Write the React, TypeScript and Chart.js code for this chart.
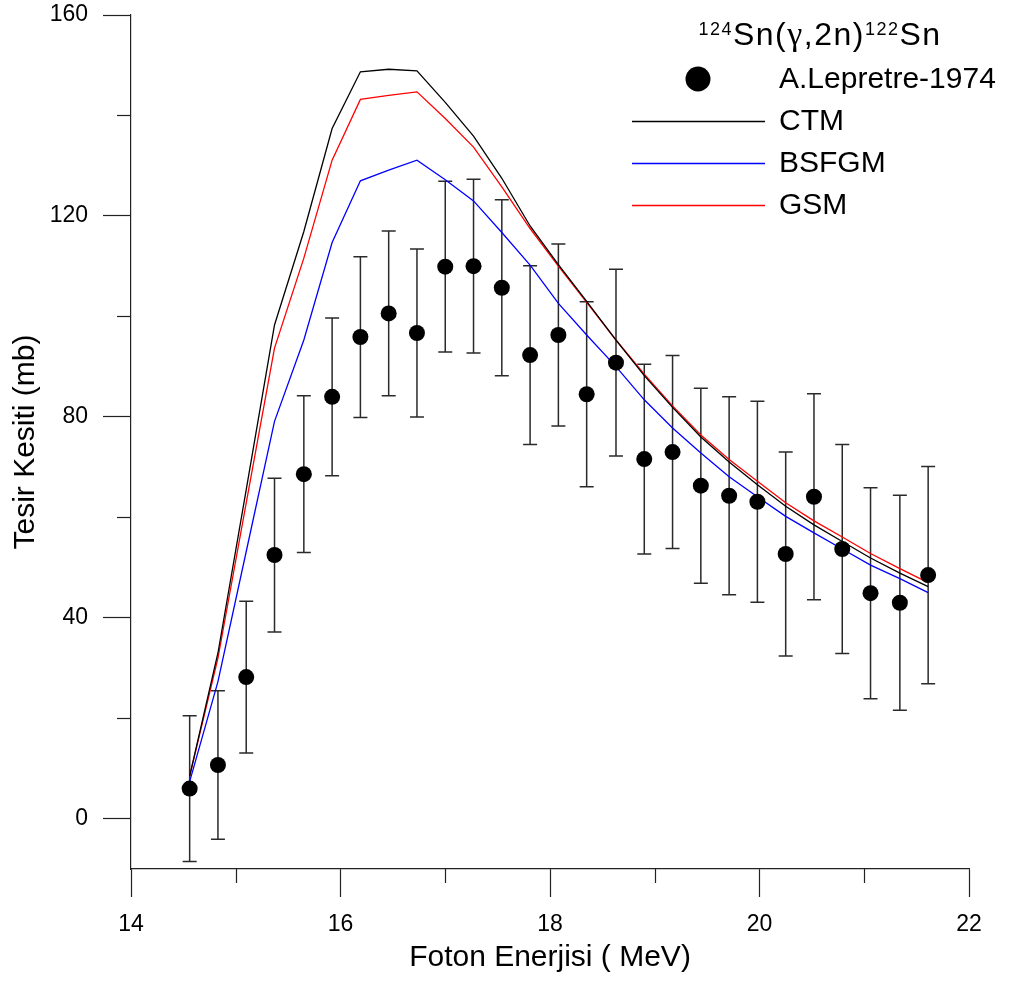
import { useEffect, useRef } from 'react';
import { Chart, registerables } from 'chart.js';

Chart.register(...registerables);

const FONT = "'Liberation Sans', Arial, Helvetica, sans-serif";
const GREEK_FONT = "'Liberation Serif', 'Times New Roman', serif";

// Photon energy (MeV) of each measured / calculated point
const energy = [
  14.56, 14.83, 15.1, 15.37, 15.65, 15.92, 16.19, 16.46, 16.73, 17.0, 17.27, 17.54, 17.81, 18.08,
  18.35, 18.63, 18.9, 19.17, 19.44, 19.71, 19.98, 20.25, 20.52, 20.79, 21.06, 21.34, 21.61,
];

// A.Lepretre-1974 experimental cross section (mb) and its uncertainty
const lepretre = [
  6.0, 10.7, 28.2, 52.5, 68.6, 84.0, 95.9, 100.6, 96.7, 109.9, 110.0, 105.7, 92.3, 96.3,
  84.5, 90.8, 71.6, 73.0, 66.3, 64.3, 63.1, 52.7, 64.1, 53.7, 44.9, 43.0, 48.5,
];
const lepretreErr = [
  14.5, 14.8, 15.1, 15.3, 15.6, 15.7, 16.0, 16.4, 16.7, 17.0, 17.3, 17.5, 17.8, 18.1,
  18.4, 18.6, 18.9, 19.2, 19.4, 19.7, 20.0, 20.3, 20.5, 20.8, 21.0, 21.4, 21.6,
];

// Model calculations (mb)
const ctm = [
  8.5, 33.0, 65.5, 98.3, 116.9, 137.4, 148.7, 149.2, 148.9, 142.6, 135.9, 127.5, 118.0, 110.3,
  103.0, 95.3, 88.2, 81.9, 76.0, 71.0, 66.5, 62.2, 58.5, 55.2, 51.9, 48.9, 46.2,
];
const bsfgm = [
  7.4, 27.3, 53.2, 79.1, 95.3, 114.7, 127.0, 129.1, 131.1, 127.2, 123.0, 116.7, 110.2, 102.6,
  96.3, 90.0, 83.4, 77.8, 72.8, 68.1, 64.1, 60.2, 56.9, 53.7, 50.5, 47.8, 45.0,
];
const gsm = [
  8.5, 32.0, 62.9, 93.7, 111.6, 131.1, 143.2, 144.0, 144.7, 139.4, 133.7, 125.8, 117.5, 110.0,
  102.8, 95.3, 88.5, 82.2, 76.4, 71.5, 67.2, 62.9, 59.3, 56.1, 52.8, 49.8, 47.0,
];

// Axis ticks
const xMajorTicks = [14, 16, 18, 20, 22];
const xMinorTicks = [15, 17, 19, 21];
const yMajorTicks = [0, 40, 80, 120, 160];
const yMinorTicks = [20, 60, 100, 140];

const seriesNames = ['A.Lepretre-1974', 'CTM', 'BSFGM', 'GSM'];
const seriesColors = ['#000000', '#000000', '#0000ff', '#ff0000'];

const AXIS_COLOR = '#222222';

const toPoints = (ys: number[]) => energy.map((x, i) => ({ x, y: ys[i] }));

// Vertical error bars with caps, drawn beneath the markers
const errorBarPlugin = {
  id: 'errorBars',
  beforeDatasetsDraw(chart: any) {
    const { ctx, scales } = chart;
    const xs = scales.x;
    const ys = scales.y;
    ctx.save();
    ctx.strokeStyle = '#2a2a2a';
    ctx.lineWidth = 1.5;
    const cap = 7;
    energy.forEach((e, i) => {
      const px = xs.getPixelForValue(e);
      const top = ys.getPixelForValue(lepretre[i] + lepretreErr[i]);
      const bot = ys.getPixelForValue(lepretre[i] - lepretreErr[i]);
      ctx.beginPath();
      ctx.moveTo(px, top);
      ctx.lineTo(px, bot);
      ctx.moveTo(px - cap, top);
      ctx.lineTo(px + cap, top);
      ctx.moveTo(px - cap, bot);
      ctx.lineTo(px + cap, bot);
      ctx.stroke();
    });
    ctx.restore();
  },
};

// Short minor tick marks outside the axes
const minorTickPlugin = {
  id: 'minorTicks',
  afterDraw(chart: any) {
    const { ctx, scales, chartArea } = chart;
    ctx.save();
    ctx.strokeStyle = AXIS_COLOR;
    ctx.lineWidth = 1.2;
    const len = 14;
    xMinorTicks.forEach((v) => {
      const px = Math.round(scales.x.getPixelForValue(v)) + 0.5;
      ctx.beginPath();
      ctx.moveTo(px, chartArea.bottom);
      ctx.lineTo(px, chartArea.bottom + len);
      ctx.stroke();
    });
    yMinorTicks.forEach((v) => {
      const py = Math.round(scales.y.getPixelForValue(v)) + 0.5;
      ctx.beginPath();
      ctx.moveTo(chartArea.left - len, py);
      ctx.lineTo(chartArea.left, py);
      ctx.stroke();
    });
    ctx.restore();
  },
};

// Reaction title and legend in the upper right of the plot
const legendPlugin = {
  id: 'reactionLegend',
  afterDraw(chart: any) {
    const { ctx, chartArea } = chart;
    const right = chartArea.right;
    const top = chartArea.top;
    ctx.save();
    ctx.fillStyle = '#000';

    // title: 124Sn(γ,2n)122Sn with superscript mass numbers
    const bigFont = `32px ${FONT}`;
    const supFont = `18px ${FONT}`;
    const greekFont = `34px ${GREEK_FONT}`;
    const parts = [
      { t: '124', f: supFont, dy: -10.5 },
      { t: 'Sn(', f: bigFont, dy: 0 },
      { t: 'γ', f: greekFont, dy: 0 },
      { t: ',2n)', f: bigFont, dy: 0 },
      { t: '122', f: supFont, dy: -10.5 },
      { t: 'Sn', f: bigFont, dy: 0 },
    ];
    ctx.letterSpacing = '1.5px';
    const widths = parts.map((p) => {
      ctx.font = p.f;
      return ctx.measureText(p.t).width;
    });
    const total = widths.reduce((a, b) => a + b, 0);
    let tx = right - 149 - total / 2;
    const baseline = top + 30;
    ctx.textBaseline = 'alphabetic';
    ctx.textAlign = 'left';
    parts.forEach((p, i) => {
      ctx.font = p.f;
      ctx.fillText(p.t, tx, baseline + p.dy);
      tx += widths[i];
    });
    ctx.letterSpacing = '0px';

    // entries
    const rowY = [top + 64, top + 106, top + 148, top + 190];
    const markX = right - 271;
    const lineX0 = right - 337;
    const lineX1 = right - 204;
    const textX = right - 190;
    ctx.font = `30px ${FONT}`;
    ctx.textBaseline = 'middle';
    seriesNames.forEach((name, i) => {
      const y = rowY[i];
      if (i === 0) {
        ctx.beginPath();
        ctx.arc(markX, y, 12.5, 0, Math.PI * 2);
        ctx.fillStyle = seriesColors[0];
        ctx.fill();
      } else {
        ctx.beginPath();
        ctx.strokeStyle = seriesColors[i];
        ctx.lineWidth = 1.3;
        ctx.moveTo(lineX0, Math.round(y) + 0.5);
        ctx.lineTo(lineX1, Math.round(y) + 0.5);
        ctx.stroke();
      }
      ctx.fillStyle = '#000';
      ctx.fillText(name, textX, y + 1);
    });
    ctx.restore();
  },
};

export default function App() {
  const canvasRef = useRef<HTMLCanvasElement | null>(null);

  useEffect(() => {
    const canvas = canvasRef.current;
    if (!canvas) return;

    const tickFont = { family: FONT, size: 23 };
    const titleFont = { family: FONT, size: 30 };

    const chart = new Chart(canvas, {
      type: 'scatter',
      data: {
        datasets: [
          {
            label: seriesNames[0],
            data: toPoints(lepretre),
            showLine: false,
            pointRadius: 8,
            pointHoverRadius: 8,
            backgroundColor: '#000',
            borderColor: '#000',
            borderWidth: 0,
          },
          {
            label: seriesNames[1],
            data: toPoints(ctm),
            showLine: true,
            borderColor: seriesColors[1],
            borderWidth: 1.3,
            pointRadius: 0,
            fill: false,
            tension: 0,
          },
          {
            label: seriesNames[2],
            data: toPoints(bsfgm),
            showLine: true,
            borderColor: seriesColors[2],
            borderWidth: 1.3,
            pointRadius: 0,
            fill: false,
            tension: 0,
          },
          {
            label: seriesNames[3],
            data: toPoints(gsm),
            showLine: true,
            borderColor: seriesColors[3],
            borderWidth: 1.3,
            pointRadius: 0,
            fill: false,
            tension: 0,
          },
        ],
      },
      options: {
        responsive: false,
        animation: false,
        events: [],
        layout: { padding: { left: 0, right: 42, top: 15, bottom: 0 } },
        plugins: {
          legend: { display: false },
          tooltip: { enabled: false },
        },
        scales: {
          x: {
            type: 'linear',
            position: 'bottom',
            min: 14,
            max: 22,
            afterFit: (s: any) => {
              s.height = 112;
              s.paddingLeft = 0;
              s.paddingRight = 0;
            },
            border: { display: true, color: AXIS_COLOR, width: 1.2 },
            grid: {
              display: true,
              drawOnChartArea: false,
              drawTicks: true,
              tickLength: 28,
              tickWidth: 1.2,
              tickColor: (c: any) =>
                c.tick && xMajorTicks.includes(c.tick.value) ? AXIS_COLOR : 'rgba(0,0,0,0)',
            },
            ticks: {
              stepSize: 1,
              autoSkip: false,
              maxRotation: 0,
              padding: 14,
              color: '#000',
              font: tickFont,
              callback: (v: any) => (xMajorTicks.includes(Number(v)) ? String(v) : ''),
            },
            title: {
              display: true,
              text: 'Foton Enerjisi ( MeV)',
              color: '#000',
              font: titleFont,
              padding: { top: 0, bottom: 5 },
            },
          },
          y: {
            type: 'linear',
            position: 'left',
            min: -10,
            max: 160,
            afterFit: (s: any) => {
              s.width = 131;
              s.paddingTop = 0;
              s.paddingBottom = 0;
            },
            border: { display: true, color: AXIS_COLOR, width: 1.2 },
            grid: {
              display: true,
              drawOnChartArea: false,
              drawTicks: true,
              tickLength: 28,
              tickWidth: 1.2,
              tickColor: (c: any) =>
                c.tick && yMajorTicks.includes(c.tick.value) ? AXIS_COLOR : 'rgba(0,0,0,0)',
            },
            ticks: {
              stepSize: 20,
              includeBounds: false,
              autoSkip: false,
              padding: 15,
              color: '#000',
              font: tickFont,
              callback: (v: any) => (yMajorTicks.includes(Number(v)) ? String(v) : ''),
            },
            title: {
              display: true,
              text: 'Tesir Kesiti (mb)',
              color: '#000',
              font: titleFont,
              padding: { top: 8, bottom: 0 },
            },
          },
        },
      },
      plugins: [errorBarPlugin, minorTickPlugin, legendPlugin],
    } as any);

    return () => {
      chart.destroy();
    };
  }, []);

  return (
    <div style={{ position: 'absolute', left: 0, top: 0, width: 1011, height: 981, background: '#fff' }}>
      <canvas ref={canvasRef} width={1011} height={981} style={{ width: 1011, height: 981, display: 'block' }} />
    </div>
  );
}
